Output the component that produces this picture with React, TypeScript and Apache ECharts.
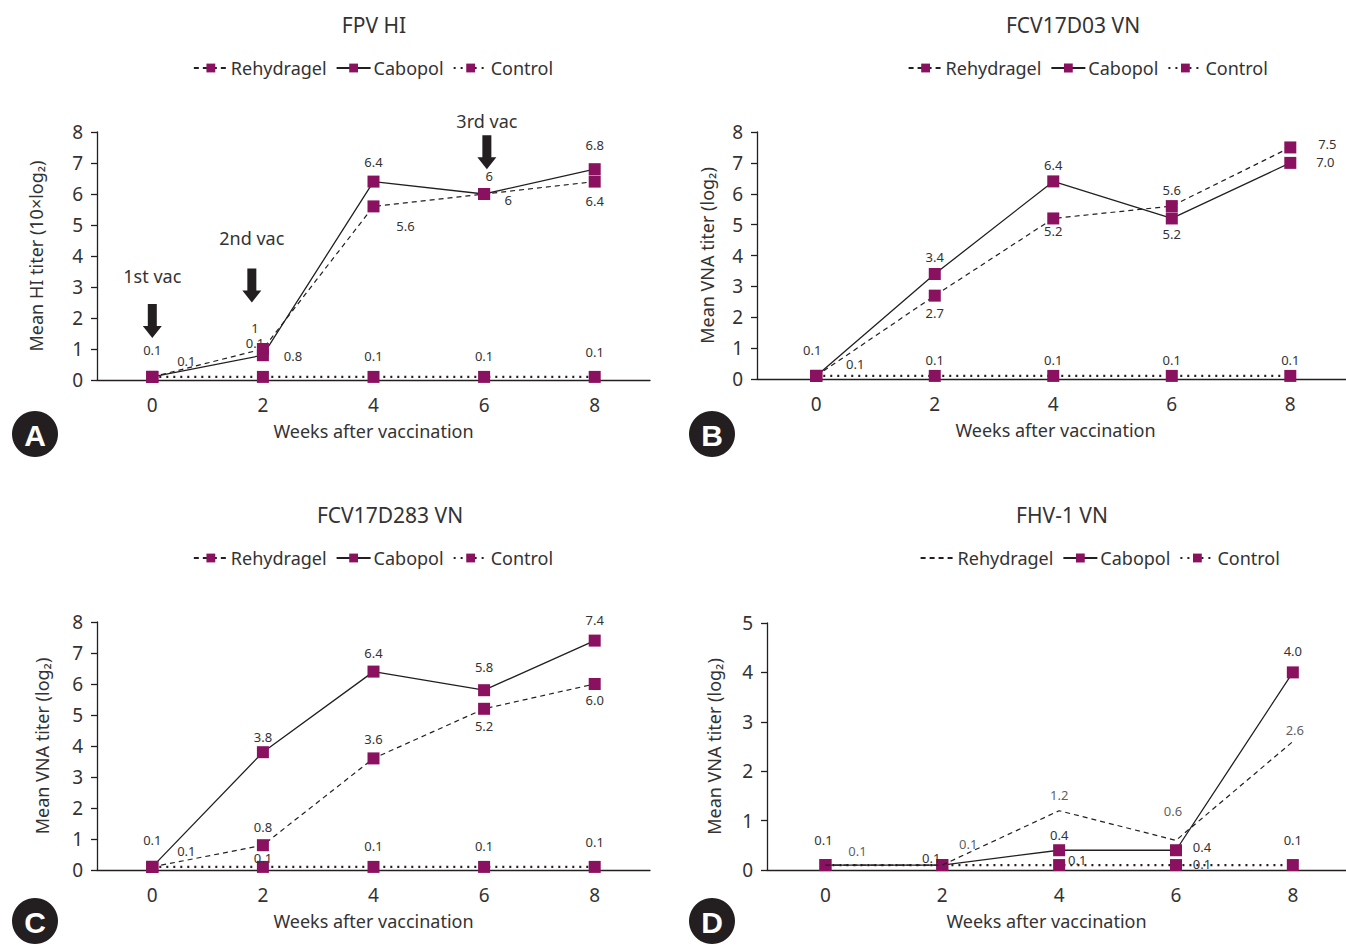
import React, { useEffect, useRef } from "react";
import * as echarts from "echarts";

// ---------- data ----------
const WEEKS = [0, 2, 4, 6, 8];
const SERIES_NAMES = ["Rehydragel", "Cabopol", "Control"];

const FPV_REHYDRAGEL = [0.1, 1, 5.6, 6, 6.4];
const FPV_CABOPOL = [0.1, 0.8, 6.4, 6, 6.8];
const FPV_CONTROL = [0.1, 0.1, 0.1, 0.1, 0.1];

const FCV03_REHYDRAGEL = [0.1, 2.7, 5.2, 5.6, 7.5];
const FCV03_CABOPOL = [0.1, 3.4, 6.4, 5.2, 7.0];
const FCV03_CONTROL = [0.1, 0.1, 0.1, 0.1, 0.1];

const FCV283_REHYDRAGEL = [0.1, 0.8, 3.6, 5.2, 6.0];
const FCV283_CABOPOL = [0.1, 3.8, 6.4, 5.8, 7.4];
const FCV283_CONTROL = [0.1, 0.1, 0.1, 0.1, 0.1];

const FHV_REHYDRAGEL = [0.1, 0.1, 1.2, 0.6, 2.6];
const FHV_CABOPOL = [0.1, 0.1, 0.4, 0.4, 4.0];
const FHV_CONTROL = [0.1, 0.1, 0.1, 0.1, 0.1];

const TITLES = ["FPV HI", "FCV17D03 VN", "FCV17D283 VN", "FHV-1 VN"];
const Y_NAMES = [
  "Mean HI titer (10×log₂)",
  "Mean VNA titer (log₂)",
  "Mean VNA titer (log₂)",
  "Mean VNA titer (log₂)",
];
const X_NAME = "Weeks after vaccination";
const Y_MAX = [8, 8, 8, 5];
const BADGES = ["A", "B", "C", "D"];

const VACCINATIONS = [
  { name: "1st vac", week: 0, y: 1.9 },
  { name: "2nd vac", week: 1.8, y: 3.05 },
  { name: "3rd vac", week: 6.05, y: 7.35 },
];

// ---------- layout / styling ----------
const W = 1346;
const H = 945;
const MARK = "#8a1060";
const INK = "#231f20";
const TXT = "#333333";
const FONT = "'Noto Sans', sans-serif";

const GRIDS = [
  { left: 97, top: 132, width: 553, height: 248, xMax: 9 },
  { left: 757, top: 132, width: 589, height: 247, xMax: 8.94 },
  { left: 97, top: 622, width: 553, height: 248, xMax: 9 },
  { left: 767, top: 623, width: 579, height: 247, xMax: 8.91 },
];
const TITLE_POS = [
  { x: 369, y: 24 },
  { x: 1068, y: 24 },
  { x: 385, y: 514 },
  { x: 1057, y: 514 },
];
const LEGEND_POS = [
  { x: 373, y: 65 },
  { x: 1033, y: 65 },
  { x: 373, y: 555 },
  { x: 1045, y: 555 },
];
const BADGE_POS = [
  { x: 35, y: 434 },
  { x: 712, y: 434 },
  { x: 35, y: 921 },
  { x: 712, y: 921 },
];
const Y_NAME_GAP = [52, 41, 46, 44];
const X_NAME_PAD: number[][] = [[0, 0, 0, 0], [0, 0, 0, 8], [0, 0, 0, 0], [0, 20, 0, 0]];
const VAC_LABEL_DIST = [19, 21, 5];

type Off = [number, number] | null;
// label offsets (label centre relative to point) per panel, per series
const LABEL_OFFSETS: Off[][][] = [
  [
    [[34, -16], [-8, -21], [32, 20], [24, 6], [0, 19]],
    [[0, -27], [30, 1], [0, -20], [5, -18], [0, -24]],
    [null, [-8, -34], [0, -21], [0, -21], [0, -25]],
  ],
  [
    [[39, -12], [0, 17], [0, 13], [0, -16], [37, -3]],
    [[-4, -26], [0, -17], [0, -16], [0, 16], [35, -1]],
    [null, [0, -16], [0, -16], [0, -16], [0, -16]],
  ],
  [
    [[34, -16], [0, -18], [0, -19], [0, 17], [0, 16]],
    [[0, -27], [0, -15], [0, -19], [0, -23], [0, -21]],
    [null, [0, -9], [0, -21], [0, -21], [0, -25]],
  ],
  [
    [[32, -14], [26, -21], [0, -16], [-3, -29], [2, -12]],
    [[-2, -25], [-11, -7], [0, -15], [26, -3], [0, -21]],
    [null, null, [18, -5], [26, -1], [0, -25]],
  ],
];

const PANEL_VALUES = [
  [FPV_REHYDRAGEL, FPV_CABOPOL, FPV_CONTROL],
  [FCV03_REHYDRAGEL, FCV03_CABOPOL, FCV03_CONTROL],
  [FCV283_REHYDRAGEL, FCV283_CABOPOL, FCV283_CONTROL],
  [FHV_REHYDRAGEL, FHV_CABOPOL, FHV_CONTROL],
];
const LINE_TYPES: any[] = [[5, 4], "solid", [2, 5]];
const LINE_WIDTHS = [1.2, 1.3, 2.2];

function fmtFor(panel: number) {
  return (v: number) => (panel === 0 ? String(v) : v.toFixed(1));
}

function buildOption() {
  const grid: any[] = [];
  const xAxis: any[] = [];
  const yAxis: any[] = [];
  const series: any[] = [];
  const legend: any[] = [];
  const title: any[] = [];
  const graphic: any[] = [];

  GRIDS.forEach((g, p) => {
    grid.push({ left: g.left, top: g.top, width: g.width, height: g.height });
    xAxis.push({
      type: "value",
      gridIndex: p,
      min: -1,
      max: g.xMax,
      interval: 1,
      splitLine: { show: false },
      axisTick: { show: false },
      axisLine: { show: true, onZero: false, lineStyle: { color: INK, width: 1.3 } },
      axisLabel: {
        fontSize: 19,
        color: TXT,
        margin: 15,
        showMaxLabel: false,
        showMinLabel: false,
        formatter: (v: number) => (WEEKS.indexOf(v) >= 0 ? String(v) : ""),
      },
      name: X_NAME,
      nameLocation: "middle",
      nameGap: 42,
      nameTextStyle: { fontSize: 18, color: TXT, padding: X_NAME_PAD[p] },
    });
    yAxis.push({
      type: "value",
      gridIndex: p,
      min: 0,
      max: Y_MAX[p],
      interval: 1,
      splitLine: { show: false },
      axisLine: { show: true, onZero: false, lineStyle: { color: INK, width: 1.3 } },
      axisTick: { show: true, length: 6, lineStyle: { color: INK, width: 1.3 } },
      axisLabel: { fontSize: 19, color: TXT, margin: 14 },
      name: Y_NAMES[p],
      nameLocation: "middle",
      nameGap: Y_NAME_GAP[p],
      nameTextStyle: { fontSize: 18, color: TXT },
    });

    const fmt = fmtFor(p);
    PANEL_VALUES[p].forEach((vals, s) => {
      const offs = LABEL_OFFSETS[p][s];
      const noMarker = p === 3 && s === 0;
      const lineSeries: any = {
        type: "line",
        name: SERIES_NAMES[s],
        xAxisIndex: p,
        yAxisIndex: p,
        symbol: noMarker ? "none" : "rect",
        symbolSize: 12,
        itemStyle: { color: MARK },
        lineStyle: { color: INK, width: LINE_WIDTHS[s], type: LINE_TYPES[s] },
        z: 3 - s,
        data: vals.map((v, i) => ({
          value: [WEEKS[i], v],
          label: offs[i] && !noMarker
            ? { show: true, position: "inside", offset: offs[i] }
            : { show: false },
        })),
        label: {
          fontSize: 13,
          color: TXT,
          formatter: (prm: any) => fmt(prm.value[1]),
        },
      };
      if (p === 0 && s === 1) {
        lineSeries.markPoint = {
          symbol: "path://M5,0 L14,0 L14,22 L19,22 L9.5,34 L0,22 L5,22 Z",
          symbolSize: [19, 34],
          itemStyle: { color: INK },
          label: {
            show: true,
            position: "top",
            fontSize: 18,
            color: TXT,
            formatter: "{b}",
          },
          data: VACCINATIONS.map((v, k) => ({
            name: v.name,
            coord: [v.week, v.y],
            label: { distance: VAC_LABEL_DIST[k] },
          })),
        };
      }
      series.push(lineSeries);
      if (noMarker) {
        series.push({
          type: "scatter",
          name: "_labels_" + p,
          xAxisIndex: p,
          yAxisIndex: p,
          symbol: "circle",
          symbolSize: 0,
          silent: true,
          data: vals.map((v, i) => ({
            value: [WEEKS[i], v],
            label: offs[i]
              ? { show: true, position: "inside", offset: offs[i] }
              : { show: false },
          })),
          label: {
            fontSize: 13,
            color: TXT,
            formatter: (prm: any) => fmt(prm.value[1]),
          },
        });
      }
    });

    legend.push({
      data: SERIES_NAMES.map((n, s) =>
        p === 3 && s === 0
          ? { name: n, itemStyle: { opacity: 0, color: "rgba(0,0,0,0)" } }
          : { name: n }
      ),
      top: LEGEND_POS[p].y - 11,
      left: LEGEND_POS[p].x,
      itemWidth: 34,
      itemHeight: 11,
      itemGap: 9,
      selectedMode: false,
      textStyle: { fontSize: 18, color: TXT, padding: [0, 0, 0, -2] },
    });

    title.push({
      text: TITLES[p],
      left: TITLE_POS[p].x,
      top: TITLE_POS[p].y - 15,
      textAlign: "center",
      textStyle: { fontSize: 21, fontWeight: "normal", color: TXT },
    });

    graphic.push({
      type: "group",
      x: BADGE_POS[p].x,
      y: BADGE_POS[p].y,
      children: [
        { type: "circle", shape: { cx: 0, cy: 0, r: 23 }, style: { fill: INK } },
        {
          type: "text",
          x: 0,
          y: 1,
          style: {
            text: BADGES[p],
            fill: "#ffffff",
            stroke: INK,
            lineWidth: 1,
            font: "bold 30px 'Liberation Sans', Arial, sans-serif",
            align: "center",
            verticalAlign: "middle",
          },
        },
      ],
    });
  });

  return { animation: false, textStyle: { fontFamily: FONT }, grid, xAxis, yAxis, series, legend, title, graphic };
}

export default function App() {
  const ref = useRef<HTMLDivElement>(null);
  useEffect(() => {
    if (!ref.current) return;
    const chart = echarts.init(ref.current, null, { renderer: "svg", width: W, height: H });
    const opt: any = buildOption();
    chart.setOption(opt);
    // centre each legend on its panel
    const view: any = chart;
    const legends = opt.legend.map((lg: any, i: number) => {
      const comp = view.getModel().getComponent("legend", i);
      const lview = comp && view.getViewOfComponentModel(comp);
      if (lview && lview.group) {
        const rect = lview.group.getBoundingRect();
        return { left: LEGEND_POS[i].x - rect.width / 2 };
      }
      return {};
    });
    chart.setOption({ legend: legends });
    return () => chart.dispose();
  }, []);
  return (
    <div
      ref={ref}
      style={{ position: "absolute", left: 0, top: 0, width: W, height: H, background: "#fff" }}
    />
  );
}
